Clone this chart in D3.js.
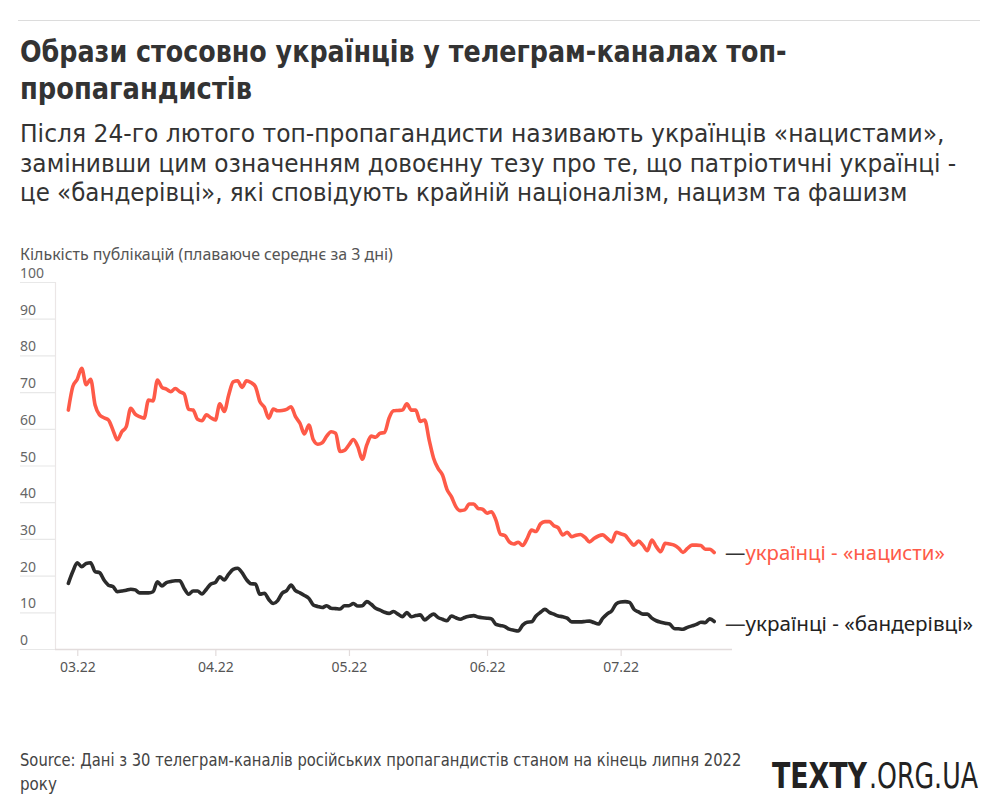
<!DOCTYPE html>
<html><head><meta charset="utf-8">
<script src="https://cdn.jsdelivr.net/npm/d3@7"></script>
<style>
html,body{margin:0;padding:0;background:#fff;}
svg{display:block;}
</style></head>
<body>
<svg id="chart" width="1000" height="804"></svg>
<script>
// ---------- DATA ----------
const title = ["Образи стосовно українців у телеграм-каналах топ-", "пропагандистів"];
const subtitle = [
  "Після 24-го лютого топ-пропагандисти називають українців «нацистами»,",
  "замінивши цим означенням довоєнну тезу про те, що патріотичні українці -",
  "це «бандерівці», які сповідують крайній націоналізм, нацизм та фашизм"
];
const yLabel = "Кількість публікацій (плаваюче середнє за 3 дні)";
const source = ["Source: Дані з 30 телеграм-каналів російських пропагандистів станом на кінець липня 2022", "року"];
const logoParts = ["TEXTY", ".ORG.UA"];
const seriesNames = ["українці - «нацисти»", "українці - «бандерівці»"];
const yTicks = [0, 10, 20, 30, 40, 50, 60, 70, 80, 90, 100];
const xTickDates = ["2022-03-01", "2022-04-01", "2022-05-01", "2022-06-01", "2022-07-01"];
const startDate = "2022-02-27"; // first daily value
const domainDates = ["2022-02-24", "2022-07-26"];

const nazis = [
  65.1,71.5,73.5,76.5,72,73.5,66.5,63.8,63,62.4,59.7,57,59.2,60.6,65.6,64,63.3,62.9,67.8,67.6,
  73.3,71.3,70.8,70.1,71,70.1,69.5,65.3,65.1,62.6,62.2,63.8,63,62.4,66.8,64.7,69.2,72.8,73.1,71.3,
  73.1,72.6,71.5,67.4,65.9,62.9,65.4,64.9,65,65.3,66,63.3,61.5,58.6,61,57,55.8,56.2,58,59.2,
  58.8,53.8,54.1,55.6,57.1,55.1,51.7,55.6,58,57.7,58.8,59,62.9,64.9,65,65.1,66.8,65.1,65.1,62,
  62.4,57,52,49.2,47.4,43.5,41.5,38.8,37.7,37.9,39.5,39.5,38.3,38.1,37,37.4,35.1,31.3,30.9,29.2,
  28.6,29.1,28.2,30.1,32.4,32,34.1,34.7,34.7,33.6,33,31.1,31.8,30.6,31,31.2,30.4,29.2,30.1,30.8,
  31.1,30.1,29.2,31.8,31.4,31,29.5,28.3,29.4,28.3,26.8,29.7,27.9,26.5,28.8,28.6,28.3,27.5,26.3,27.4,
  28.3,28.3,28.2,27.2,27.2,26.3
];
const banderites = [
  17.9,21.1,23.5,22.4,23.3,23.5,21.1,20.8,18.8,17.4,17,15.6,15.8,16,16.3,16.1,15.3,15.3,15.3,15.6,
  18.3,17.2,18.1,18.4,18.6,18.6,16.5,14.9,15.8,15.8,15,16.3,17.7,18.1,19.7,18.8,20.4,21.7,22,20.8,
  18.9,17.8,17.7,14.9,15.2,13.5,12.4,13.2,15.2,15.9,17.4,15.9,15.3,14.6,13.8,12,11.6,11.3,11.8,11.1,
  11,10.9,11.8,11.8,12.4,11.7,11.8,12.9,12.2,11.1,10.6,10,9.7,10.2,9.5,8.8,9.9,8.8,9.1,9.3,
  7.9,8.8,9.5,8.6,8.1,7.7,9,8.5,8.1,8.6,8.9,9.1,8.7,8.5,8.4,8.2,6.7,6.4,6.1,5.4,
  5.1,4.9,6.5,7.3,7.4,9,10,10.8,10,9.5,9,8.8,8.4,7.4,7.4,7.4,7.5,7.6,7.2,6.8,
  8.4,9.6,10.4,12.3,12.8,12.9,12.7,10.8,10.1,9.5,9.5,8.4,7.7,7.3,7,6.8,5.6,5.5,5.4,5.9,
  6.3,6.7,7.3,7.2,8.2,7.5
];
const colors = ["#fe5a48", "#2b2b2b"];

// ---------- LAYOUT ----------
const svg = d3.select("#chart");
const parse = d3.utcParse("%Y-%m-%d");
const t0 = parse(startDate);
const toSeries = arr => arr.map((v, i) => ({date: d3.utcDay.offset(t0, i), value: v}));
const series = [toSeries(nazis), toSeries(banderites)];

const plot = {left: 55, right: 732, top: 282, bottom: 649};
const x = d3.scaleUtc().domain(domainDates.map(parse)).range([plot.left, plot.right]);
const y = d3.scaleLinear().domain([0, 100]).range([plot.bottom, plot.top]);

function fit(sel, target) {
  const base = parseFloat(sel.attr("font-size"));
  const w = sel.node().getComputedTextLength();
  sel.attr("font-size", (base * target / w).toFixed(2));
}
// text drawn at a given size, horizontally scaled (via transform) to a target width
function scaledText(txt, px, py, target, size, family, weight, fill) {
  const g = svg.append("g");
  const t = g.append("text").attr("x", 0).attr("y", 0)
    .attr("font-family", family).attr("font-weight", weight)
    .attr("font-size", size).attr("fill", fill).text(txt);
  const w = t.node().getComputedTextLength();
  const sx = Math.min(1.15, target / w);
  g.attr("transform", `translate(${px},${py}) scale(${sx.toFixed(4)},1)`);
  return t;
}

const condensed = "'Liberation Sans Narrow','DejaVu Sans Condensed','Roboto',sans-serif";
const sans = "'Noto Sans','Open Sans','DejaVu Sans',sans-serif";

// top rule
svg.append("line").attr("x1", 18).attr("x2", 980).attr("y1", 20.5).attr("y2", 20.5)
  .attr("stroke", "#dcdcdc").attr("stroke-width", 1);

// title
const titleW = [767, 232];
title.forEach((t, i) => scaledText(t, 20, 62 + i * 37, titleW[i], 30.5, condensed, "bold", "#333"));
// subtitle
const subW = [925, 937, 888];
subtitle.forEach((t, i) => scaledText(t, 20, 142 + i * 29.5, subW[i], 24, condensed, "normal", "#333"));

// y label
const yl = svg.append("text").attr("x", 20).attr("y", 260)
  .attr("font-family", sans).attr("font-size", 15).attr("fill", "#555").text(yLabel);
fit(yl, 373);

// y grid stubs + labels
const yg = svg.append("g");
yTicks.forEach(v => {
  yg.append("line").attr("x1", 20).attr("x2", plot.left).attr("y1", y(v) + 0.5).attr("y2", y(v) + 0.5)
    .attr("stroke", "#e8e8e8").attr("stroke-width", 1.2);
  yg.append("text").attr("x", 20).attr("y", y(v) - 4)
    .attr("font-family", sans).attr("font-size", 14).attr("fill", "#666").text(v);
});
// left axis line
svg.append("line").attr("x1", plot.left + 0.5).attr("x2", plot.left + 0.5)
  .attr("y1", y(100)).attr("y2", plot.bottom)
  .attr("stroke", "#ebe6e6").attr("stroke-width", 1.2);

// x axis
const xAxis = d3.axisBottom(x).tickValues(xTickDates.map(parse))
  .tickFormat(d3.utcFormat("%m.%y")).tickSize(7).tickPadding(6);
const xg = svg.append("g").attr("transform", `translate(0,${plot.bottom})`).call(xAxis);
xg.select(".domain").attr("stroke", "#e2dcdc").attr("stroke-width", 1.5)
  .attr("d", `M${plot.left},0.5H${plot.right}`);
xg.selectAll(".tick line").attr("stroke", "#e2dcdc").attr("stroke-width", 1.2);
xg.selectAll(".tick text").attr("font-family", sans).attr("font-size", 14).attr("fill", "#555");

// lines
const line = d3.line().x(d => x(d.date)).y(d => y(d.value)).curve(d3.curveMonotoneX);
series.forEach((s, i) => {
  svg.append("path").datum(s).attr("d", line).attr("fill", "none")
    .attr("stroke", colors[i]).attr("stroke-width", 3.6)
    .attr("stroke-linejoin", "round").attr("stroke-linecap", "round");
});

// end labels
const labY = [560, 631];
const labW = [200, 228];
seriesNames.forEach((n, i) => {
  const t = svg.append("text").attr("x", 725).attr("y", labY[i])
    .attr("font-family", sans).attr("font-size", 19);
  t.append("tspan").attr("fill", "#333").text("—");
  t.append("tspan").attr("fill", i === 0 ? colors[0] : "#222").text(n);
  fit(t, labW[i] + 20);
});

// source
const srcW = [722, 37];
source.forEach((s, i) => scaledText(s, 20, 766 + i * 24, srcW[i], 18, condensed, "normal", "#444"));

// logo (two separate texts)
const logoX = [772, 869], logoW = [95, 109], logoWeight = ["bold", "normal"];
logoParts.forEach((p, i) => scaledText(p, logoX[i], 788, logoW[i], 35, condensed, logoWeight[i], "#222"));
</script>
</body></html>
